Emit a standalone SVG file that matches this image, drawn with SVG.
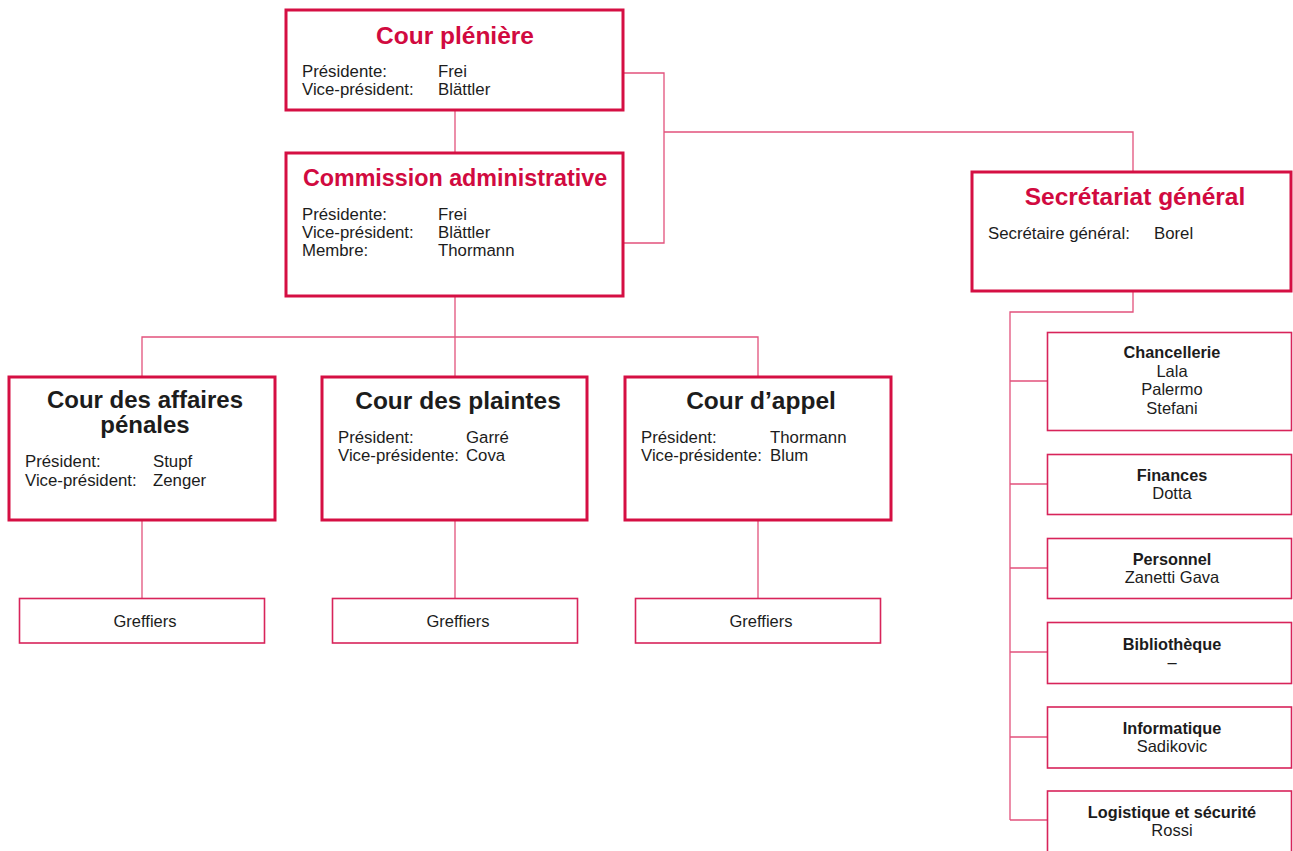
<svg xmlns="http://www.w3.org/2000/svg" width="1293" height="851" viewBox="0 0 1293 851">
<style>
.bx{fill:#fff;stroke:#d50f43;stroke-width:3}
.sb{fill:#fff;stroke:#d8245a;stroke-width:1.6}
.cn{fill:none;stroke:#e2527c;stroke-width:1.3}
text{font-family:"Liberation Sans",Arial,Helvetica,sans-serif;fill:#1c1c1c}
.tr{font-size:24.5px;font-weight:bold;fill:#d10a40;text-anchor:middle}
.tb{font-size:24.5px;font-weight:bold;text-anchor:middle}
.b{font-size:16.8px}
.sh{font-size:16.3px;font-weight:bold;text-anchor:middle}
.sv{font-size:16.5px;text-anchor:middle}
</style>
<rect width="1293" height="851" fill="#fff"/>
<g id="connectors">
<path class="cn" d="M455 111V152"/>
<path class="cn" d="M624 73H664V243H624"/>
<path class="cn" d="M664 132H1133V171"/>
<path class="cn" d="M455 297V337"/>
<path class="cn" d="M142 376V337H758V376"/>
<path class="cn" d="M455 337V376"/>
<path class="cn" d="M142 521V598"/>
<path class="cn" d="M455 521V598"/>
<path class="cn" d="M758 521V598"/>
<path class="cn" d="M1133 292V312H1010V820"/>
<path class="cn" d="M1010 381H1047M1010 484H1047M1010 568H1047M1010 652H1047M1010 737H1047M1010 820H1047"/>
</g>
<g id="cour-pleniere">
<rect class="bx" x="286" y="10" width="337" height="100"/>
<text class="tr" x="455" y="44">Cour plénière</text>
<text class="b" x="302" y="77">Présidente:</text><text class="b" x="438" y="77">Frei</text>
<text class="b" x="302" y="95">Vice-président:</text><text class="b" x="438" y="95">Blättler</text>
</g>
<g id="commission-administrative">
<rect class="bx" x="286" y="153" width="337" height="143"/>
<text class="tr" x="455" y="186" style="font-size:23.3px">Commission administrative</text>
<text class="b" x="302" y="220">Présidente:</text><text class="b" x="438" y="220">Frei</text>
<text class="b" x="302" y="238">Vice-président:</text><text class="b" x="438" y="238">Blättler</text>
<text class="b" x="302" y="256">Membre:</text><text class="b" x="438" y="256">Thormann</text>
</g>
<g id="secretariat-general">
<rect class="bx" x="972" y="172" width="319" height="119"/>
<text class="tr" x="1135" y="205">Secrétariat général</text>
<text class="b" x="988" y="239">Secrétaire général:</text><text class="b" x="1154" y="239">Borel</text>
</g>
<g id="cour-affaires-penales">
<rect class="bx" x="9" y="377" width="266" height="143"/>
<text class="tb" x="145" y="407.5" style="font-size:24px">Cour des affaires<tspan x="145" dy="25">pénales</tspan></text>
<text class="b" x="25" y="467">Président:</text><text class="b" x="153" y="467">Stupf</text>
<text class="b" x="25" y="486">Vice-président:</text><text class="b" x="153" y="486">Zenger</text>
</g>
<g id="cour-plaintes">
<rect class="bx" x="322" y="377" width="265" height="143"/>
<text class="tb" x="458" y="409">Cour des plaintes</text>
<text class="b" x="338" y="443">Président:</text><text class="b" x="466" y="443">Garré</text>
<text class="b" x="338" y="461">Vice-présidente:</text><text class="b" x="466" y="461">Cova</text>
</g>
<g id="cour-appel">
<rect class="bx" x="625" y="377" width="266" height="143"/>
<text class="tb" x="761" y="409">Cour d’appel</text>
<text class="b" x="641" y="443">Président:</text><text class="b" x="770" y="443">Thormann</text>
<text class="b" x="641" y="461">Vice-présidente:</text><text class="b" x="770" y="461">Blum</text>
</g>
<g id="greffiers-1">
<rect class="sb" x="19.5" y="598.5" width="245" height="44.5"/>
<text class="sv" x="145" y="627">Greffiers</text>
</g>
<g id="greffiers-2">
<rect class="sb" x="332.5" y="598.5" width="245" height="44.5"/>
<text class="sv" x="458" y="627">Greffiers</text>
</g>
<g id="greffiers-3">
<rect class="sb" x="635.5" y="598.5" width="245" height="44.5"/>
<text class="sv" x="761" y="627">Greffiers</text>
</g>
<g id="chancellerie">
<rect class="sb" x="1047.5" y="332.5" width="244" height="98"/>
<text class="sh" x="1172" y="358">Chancellerie</text>
<text class="sv" x="1172" y="377">Lala</text>
<text class="sv" x="1172" y="395">Palermo</text>
<text class="sv" x="1172" y="414">Stefani</text>
</g>
<g id="finances">
<rect class="sb" x="1047.5" y="454.5" width="244" height="60"/>
<text class="sh" x="1172" y="481">Finances</text>
<text class="sv" x="1172" y="499">Dotta</text>
</g>
<g id="personnel">
<rect class="sb" x="1047.5" y="538.5" width="244" height="60"/>
<text class="sh" x="1172" y="565">Personnel</text>
<text class="sv" x="1172" y="583">Zanetti Gava</text>
</g>
<g id="bibliotheque">
<rect class="sb" x="1047.5" y="622.5" width="244" height="61"/>
<text class="sh" x="1172" y="650">Bibliothèque</text>
<text class="sv" x="1172" y="668">–</text>
</g>
<g id="informatique">
<rect class="sb" x="1047.5" y="707" width="244" height="61"/>
<text class="sh" x="1172" y="734">Informatique</text>
<text class="sv" x="1172" y="752">Sadikovic</text>
</g>
<g id="logistique-securite">
<rect class="sb" x="1047.5" y="791" width="244" height="62"/>
<text class="sh" x="1172" y="818">Logistique et sécurité</text>
<text class="sv" x="1172" y="836">Rossi</text>
</g>
</svg>
